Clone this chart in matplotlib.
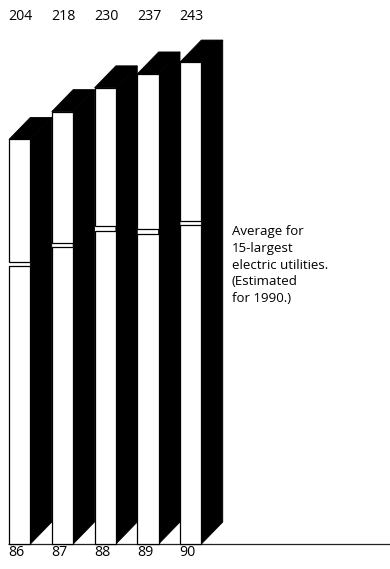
import matplotlib
matplotlib.use("Agg")
import matplotlib.pyplot as plt
from matplotlib.patches import Polygon, Rectangle

# Data
years = ["86", "87", "88", "89", "90"]
values = [204, 218, 230, 237, 243]
averages = [141.3, 150.8, 159.1, 157.5, 161.8]
note = "Average for\n15-largest\nelectric utilities.\n(Estimated\nfor 1990.)"

# Style / geometry
FRONT_W = 0.5      # width of the front face (category units)
DEPTH_X = 0.5      # oblique depth, horizontal
DEPTH_Y = 11.1     # oblique depth, vertical (value units)
GAP = 1.1          # half-height of the break that marks the average
FONT = "Open Sans"
FS = 10.2

fig = plt.figure(figsize=(3.9, 5.69), dpi=100)
ax = fig.add_axes([0, 0, 1, 1])
ax.set_xlim(-0.2105, 8.912)
ax.set_ylim(-12.6, 274.3)
ax.axis("off")

# Baseline
ax.plot([-0.03, 8.92], [0, 0], color="#222222", lw=0.9, solid_capstyle="butt", zorder=1)

for i, (yr, v, a) in enumerate(zip(years, values, averages)):
    x0 = i
    x1 = i + FRONT_W
    # side face
    side = Polygon([(x1, 0), (x1 + DEPTH_X, DEPTH_Y), (x1 + DEPTH_X, v + DEPTH_Y), (x1, v)],
                   closed=True, facecolor="black", edgecolor="black", lw=0.6, zorder=2)
    ax.add_patch(side)
    # top face
    top = Polygon([(x0, v), (x1, v), (x1 + DEPTH_X, v + DEPTH_Y), (x0 + DEPTH_X, v + DEPTH_Y)],
                  closed=True, facecolor="black", edgecolor="black", lw=0.6, zorder=2)
    ax.add_patch(top)
    # front face split at the average level
    lower = Rectangle((x0, 0), FRONT_W, a - GAP, facecolor="white", edgecolor="black",
                      lw=0.9, zorder=3)
    upper = Rectangle((x0, a + GAP), FRONT_W, v - a - GAP, facecolor="white",
                      edgecolor="black", lw=0.9, zorder=3)
    ax.add_patch(lower)
    ax.add_patch(upper)
    # labels
    ax.text(x0 - 0.01, 265.8, str(v), ha="left", va="center", fontsize=FS,
            family=FONT, color="black")
    ax.text(x0 - 0.01, -4.3, yr, ha="left", va="center", fontsize=FS,
            family=FONT, color="black")

ax.text(5.216, 160.6, note, ha="left", va="top", fontsize=9.5, family=FONT,
        color="black", linespacing=1.36)

fig.savefig("out.png", dpi=100, facecolor="white")
